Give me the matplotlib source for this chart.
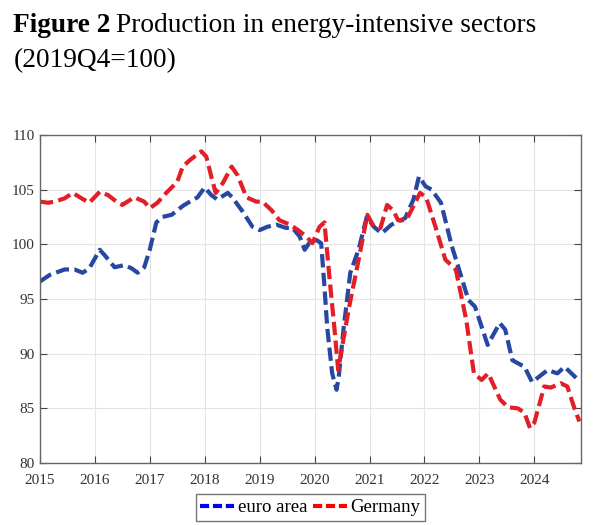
"""Figure 2: production in energy-intensive sectors, euro area vs Germany"""

import matplotlib
matplotlib.use('Agg')
from matplotlib import pyplot as plt
from matplotlib.lines import Line2D

plt.rcParams['font.family'] = ['Liberation Serif', 'DejaVu Serif']

# values (decimal year, index 2019Q4=100)
ea_t = [2015.0, 2015.18, 2015.45, 2015.63, 2015.78, 2015.9, 2016.09, 2016.18,
        2016.36, 2016.54, 2016.67, 2016.78, 2016.9, 2017.0, 2017.12, 2017.23,
        2017.4, 2017.6, 2017.73, 2017.87, 2018.0, 2018.12, 2018.23, 2018.42,
        2018.5, 2018.69, 2018.87, 2019.0, 2019.14, 2019.3, 2019.48, 2019.6,
        2019.73, 2019.82, 2019.9, 2020.03, 2020.12, 2020.18, 2020.23, 2020.32,
        2020.4, 2020.44, 2020.53, 2020.65, 2020.8, 2020.95, 2021.08, 2021.22,
        2021.4, 2021.65, 2021.8, 2021.9, 2022.02, 2022.13, 2022.3, 2022.5,
        2022.63, 2022.8, 2022.92, 2023.15, 2023.37, 2023.47, 2023.6, 2023.82,
        2023.96, 2024.24, 2024.42, 2024.55, 2024.8]
ea_v = [96.6, 97.2, 97.7, 97.7, 97.4, 97.8, 99.5, 99.0,
        97.9, 98.1, 97.8, 97.4, 97.9, 99.5, 102.0, 102.5,
        102.7, 103.5, 103.9, 104.3, 105.2, 104.5, 104.1, 104.7,
        104.3, 103.0, 101.6, 101.3, 101.6, 101.8, 101.5, 101.5,
        100.7, 99.5, 100.1, 100.4, 100.1, 96.1, 92.4, 88.2,
        86.7, 87.9, 92.4, 97.4, 99.5, 102.5, 101.6, 101.0,
        101.8, 102.4, 104.1, 106.2, 105.3, 105.0, 103.8, 99.8,
        97.7, 94.9, 94.3, 90.8, 92.8, 92.2, 89.4, 88.8,
        87.4, 88.5, 88.2, 88.8, 87.6]

de_t = [2015.0, 2015.15, 2015.27, 2015.45, 2015.6, 2015.76, 2015.9, 2016.09,
        2016.24, 2016.42, 2016.5, 2016.72, 2016.9, 2017.0, 2017.14, 2017.3,
        2017.5, 2017.6, 2017.73, 2017.94, 2018.03, 2018.12, 2018.2, 2018.33,
        2018.49, 2018.6, 2018.76, 2018.94, 2019.05, 2019.22, 2019.36, 2019.55,
        2019.7, 2019.85, 2019.96, 2020.09, 2020.18, 2020.27, 2020.36, 2020.43,
        2020.5, 2020.63, 2020.81, 2020.96, 2021.08, 2021.2, 2021.32, 2021.43,
        2021.52, 2021.67, 2021.92, 2022.03, 2022.2, 2022.38, 2022.57, 2022.76,
        2022.9, 2023.04, 2023.16, 2023.38, 2023.52, 2023.7, 2023.82, 2023.92,
        2024.0, 2024.18, 2024.3, 2024.48, 2024.6, 2024.73, 2024.82]
de_v = [103.9, 103.8, 103.9, 104.2, 104.7, 104.2, 103.8, 104.8,
        104.5, 103.8, 103.6, 104.3, 103.9, 103.3, 103.8, 104.7,
        105.7, 107.1, 107.7, 108.5, 108.0, 106.2, 104.7, 105.6,
        107.1, 106.3, 104.3, 103.9, 103.9, 103.1, 102.2, 101.8,
        101.3, 100.7, 100.1, 101.6, 102.0, 97.0, 92.4, 88.5,
        90.6, 94.3, 98.8, 102.7, 101.6, 101.5, 103.6, 103.1,
        102.2, 102.2, 104.7, 104.3, 101.6, 98.6, 97.7, 93.1,
        88.2, 87.6, 88.2, 85.8, 85.1, 85.0, 84.6, 83.2,
        83.7, 87.0, 86.9, 87.3, 87.0, 85.0, 83.8]

years = list(range(2015, 2025))
yticks = [80, 85, 90, 95, 100, 105, 110]

fig = plt.figure(figsize=(6.04, 5.25), dpi=100)
ax = fig.add_axes([0.066, 0.118, 0.896, 0.625])

dash = (3.2, 1.3)
ax.plot(ea_t, ea_v, color='#2747a0', lw=3.0, linestyle=(0, dash),
        dash_capstyle='butt')
ax.plot(de_t, de_v, color='#e41e26', lw=3.0, linestyle=(0, dash),
        dash_capstyle='butt')

ax.set_xlim(2015, 2024.85)
ax.set_ylim(80, 110)
ax.set_xticks(years)
ax.set_yticks(yticks)
ax.grid(True, color='#e4e4e4', lw=0.8)
ax.set_axisbelow(True)
ax.tick_params(direction='in', length=5, width=0.8, color='#444444',
               labelcolor='#333333', labelsize=11, top=True, right=True)
ax.tick_params(axis='x', pad=8)
for s in ax.spines.values():
    s.set_color('#666666')
    s.set_linewidth(1.0)

handles = [Line2D([0], [0], color='#0000ff', lw=3.0, linestyle=(0, (2.2, 0.9))),
           Line2D([0], [0], color='#ff0000', lw=3.0, linestyle=(0, (2.2, 0.9)))]
leg = ax.legend(handles, ['euro area', 'Germany'], loc='center',
                bbox_to_anchor=(0.5, -0.136), ncol=2, fontsize=13.5,
                frameon=True, fancybox=False, edgecolor='#555555',
                handlelength=1.8, handletextpad=0.2, columnspacing=0.3,
                borderpad=0.25, borderaxespad=0)
leg.get_frame().set_linewidth(1.0)

# title: bold lead-in followed by normal text
t1 = fig.text(0.022, 0.939, 'Figure 2', fontsize=19.7, fontweight='bold',
              va='baseline')
fig.canvas.draw()
bb = t1.get_window_extent()
x2 = (bb.x1 + 5) / fig.bbox.width
fig.text(x2, 0.939, 'Production in energy-intensive sectors', fontsize=19.7,
         va='baseline')
fig.text(0.022, 0.873, '(2019Q4=100)', fontsize=19.7, va='baseline')

fig.savefig('out.png', dpi=100)
